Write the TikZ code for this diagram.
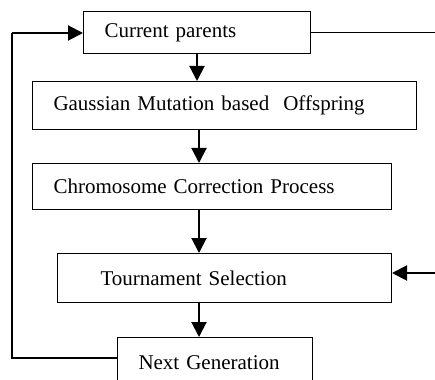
\documentclass[tikz,border=0pt]{standalone}
\usepackage{fontspec}
\setmainfont{Liberation Serif}
\usetikzlibrary{arrows.meta}
\begin{document}
\begin{tikzpicture}[x=1pt,y=-1pt,
  box/.style={draw, line width=1pt, rectangle, anchor=north west,
    inner xsep=21pt, inner ysep=0pt, align=left,
    font=\fontsize{21}{25}\selectfont},
  flow/.style={line width=2pt, -{Triangle[length=15pt,width=15pt]}},
  fbline/.style={line width=1.5pt},
  thin/.style={line width=1pt}]
\useasboundingbox (0,0) rectangle (435,379);
\clip (0,0) rectangle (435,379);

% process boxes
\node[box, text width=185pt, minimum height=42pt] (cp) at (83,11) {Current parents};
\node[box, text width=342pt, minimum height=48pt] (g) at (32,81) {Gaussian Mutation based\ \ Offspring};
\node[box, text width=317pt, minimum height=46pt] (c) at (32,163) {Chromosome Correction Process};
\node[box, inner xsep=43pt, text width=248pt, minimum height=49pt] (t) at (57,253) {Tournament Selection};
\node[box, text width=153pt, minimum height=50pt] (n) at (117,337) {Next Generation};

% helper points
\coordinate (ax) at (199,0);
\coordinate (lp) at (12,358);
\coordinate (r1) at (436,33);
\coordinate (r2) at (436,273);

% main flow
\draw[flow] (cp.south) -- (g.north -| cp.south);
\draw[flow] (g.south -| ax) -- (c.north -| ax);
\draw[flow] (c.south -| ax) -- (t.north -| ax);
\draw[flow] (t.south -| ax) -- (n.north -| ax);

% feedback loop to the parents
\draw[fbline] (n.west |- lp) -- (lp) -- (lp |- r1) coordinate (lt);
\draw[flow] (lt) -- (cp.west |- r1);

% side connections
\draw[thin] (cp.east |- r1) -- (r1);
\draw[flow] (r2) -- (t.east |- r2);
\end{tikzpicture}
\end{document}
